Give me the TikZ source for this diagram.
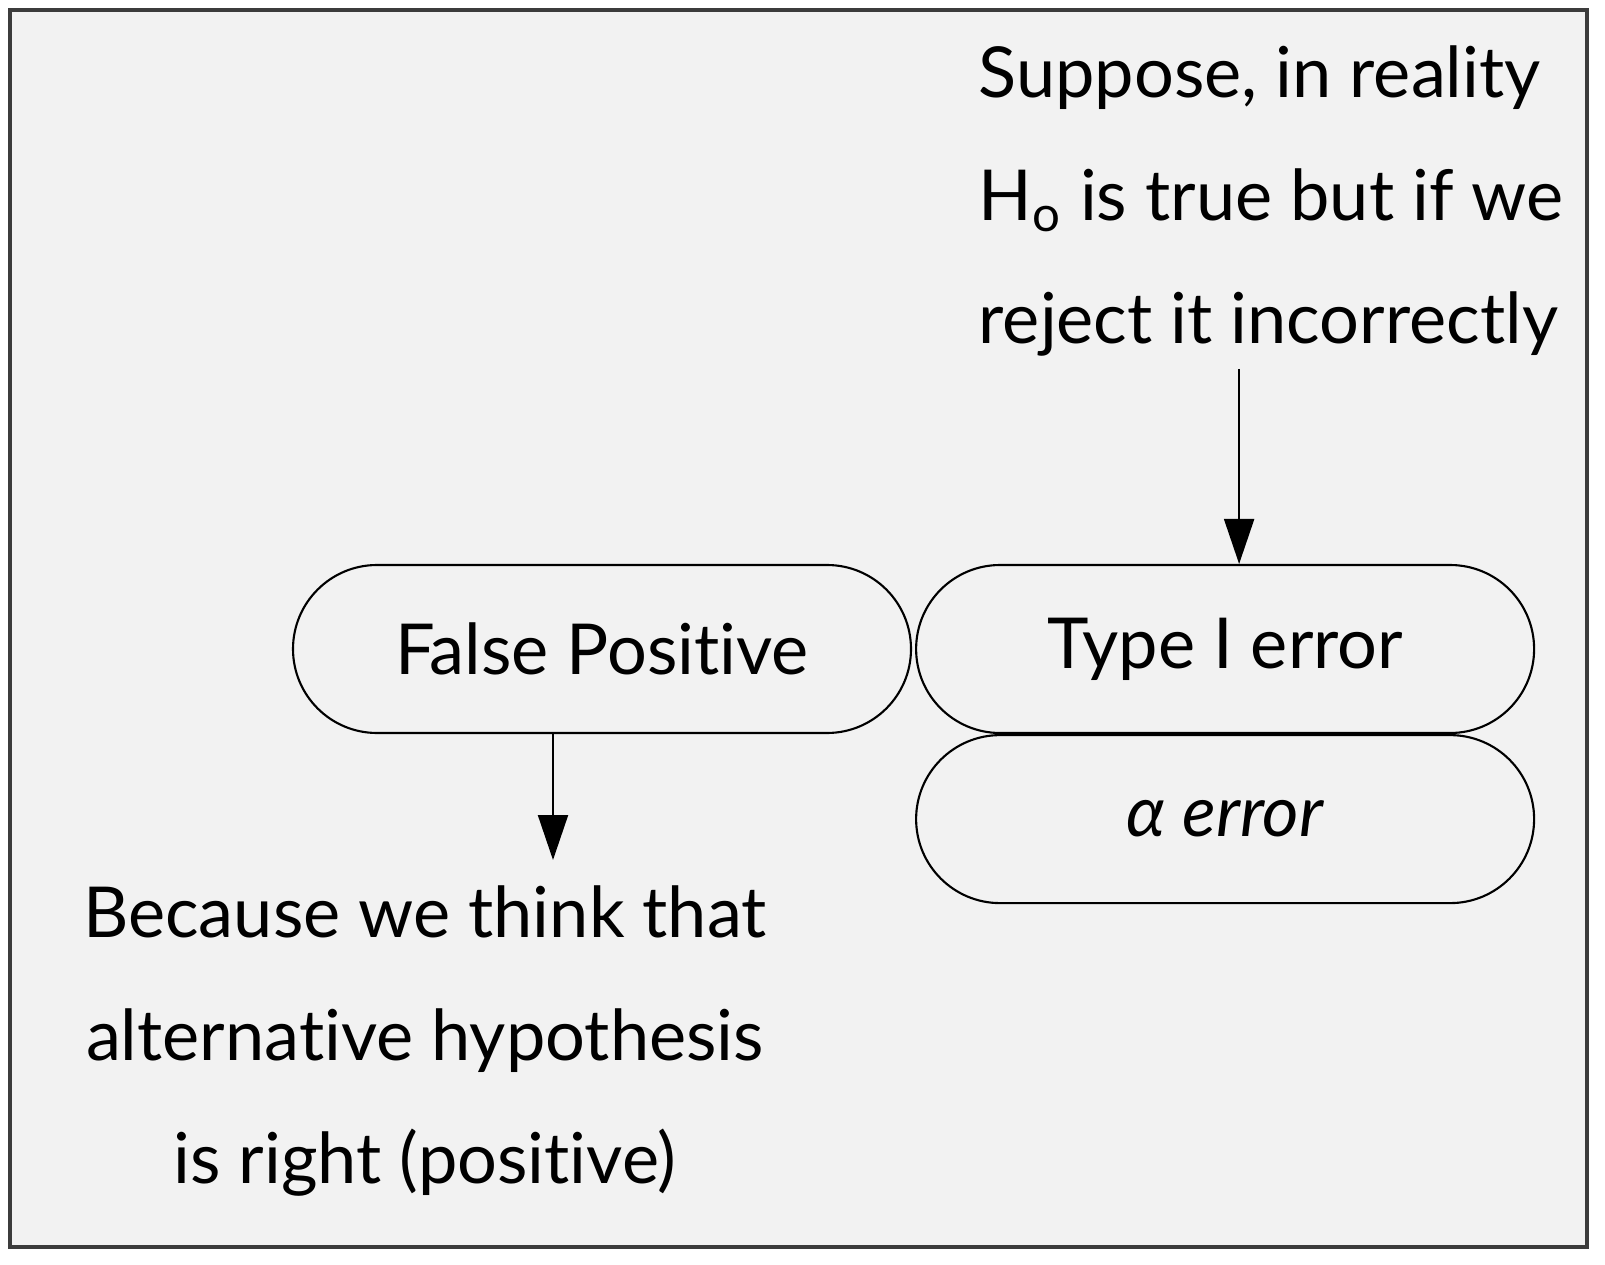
\documentclass[tikz,border=0pt]{standalone}
\usepackage{fontspec}
\setmainfont{Lato}[Ligatures=NoCommon]
\usetikzlibrary{positioning,arrows.meta,shapes.misc}
\definecolor{panelbg}{HTML}{F2F2F2}
\definecolor{edgegray}{HTML}{3C3C3C}

\begin{document}
\begin{tikzpicture}[
    every node/.style={font=\fontsize{20}{35}\selectfont, text=black},
    pill/.style={
      rounded rectangle,
      draw=black, line width=0.6pt,
      minimum width=6.18cm,
      minimum height=1.68cm,
      inner sep=0pt
    },
    note/.style={inner sep=0pt},
    arr/.style={-{Triangle[length=4.5mm,width=3mm]}, line width=0.6pt}
  ]
  \useasboundingbox (0,0) rectangle (16.05,-12.65);
  \draw[draw=edgegray, line width=0.9pt, fill=panelbg] (0.10,-0.10) rectangle (15.87,-12.47);
  \node[pill] (fp) at (6.02,-6.49) {False Positive};
  \node[pill, right=0.03cm of fp] (t1) {Type I error};
  \node[pill, below=0pt of t1] (al) {\itshape α error};
  \node[note, align=left, anchor=north west] (cond) at (9.78,-0.45) {
    Suppose, in reality\\
    H\textsubscript{o} is true but if we\\
    reject it incorrectly
  };
  \node[note, align=center, anchor=north] (why) at (4.25,-8.85) {
    Because we think that\\
    alternative hypothesis\\
    is right (positive)
  };
  \draw[arr] ([xshift=1.4mm, yshift=-1.2mm]cond.south -| t1.north) -- ([xshift=1.4mm]t1.north);
  \draw[arr] ([xshift=-4.9mm]fp.south) -- ([xshift=-4.9mm, yshift=2.5mm]fp.south |- why.north);
\end{tikzpicture}
\end{document}
